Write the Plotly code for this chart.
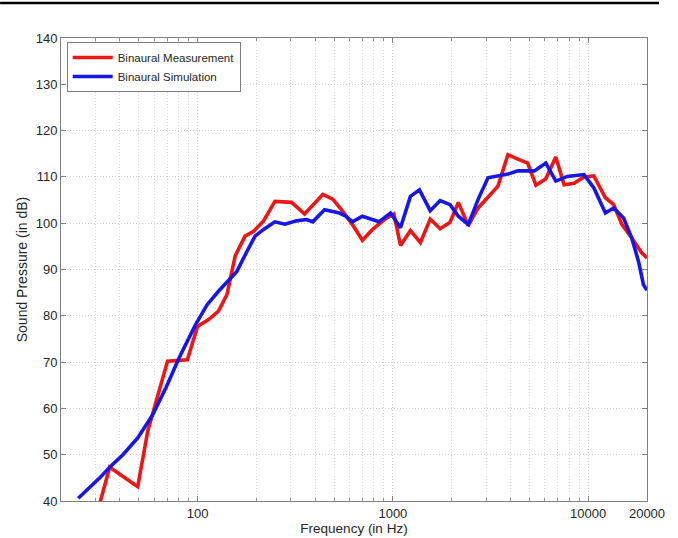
import plotly.graph_objects as go

# Binaural Measurement (red)
meas_freq = [30, 31.8, 35.5, 49.4, 55.6, 70.2, 88.7, 100, 114, 128, 141.5, 156, 175, 193, 217,
             249, 303, 353, 438, 492, 553, 621, 698, 785, 918, 1012, 1094, 1230, 1383, 1553,
             1746, 1963, 2163, 2432, 2734, 3452, 3881, 4276, 4900, 5400, 6070, 6823, 7530,
             8460, 9510, 10690, 12250, 13500, 14890, 16710, 18790, 20000]
meas_db = [36, 40, 47.3, 43.1, 55.1, 70.2, 70.5, 77.7, 79.2, 81, 84.6, 93, 97.2, 98.2, 100.4,
           104.7, 104.5, 102, 106.2, 105.2, 102.6, 99.7, 96.3, 98.6, 101, 102, 95.2, 98.4, 95.8, 100.9,
           98.8, 100.2, 104.5, 99.5, 103.3, 108, 114.8, 114, 113, 108.2, 109.6, 114.3, 108.3,
           108.6, 110, 110.2, 105.5, 104, 99.7, 96.8, 93.6, 92.5]

# Binaural Simulation (blue)
sim_freq = [24.5, 31.6, 35.5, 41.5, 49.4, 58.9, 68.8, 80.4, 97.7, 112, 128, 159, 179, 197, 217,
            249, 280, 321, 361, 389, 447, 532, 575, 621, 698, 771, 849, 973, 1094, 1230, 1368,
            1553, 1746, 1963, 2163, 2432, 2734, 3070, 3881, 4363, 5300, 6070, 6823, 7820, 9510,
            10690, 12250, 13500, 15180, 16710, 18080, 19190, 20000]
sim_db = [40.6, 45, 47.3, 50, 53.6, 58.6, 64.4, 70.9, 78.1, 82.4, 85.3, 89.6, 93.9, 97.2, 98.6,
          100.3, 99.8, 100.5, 100.8, 100.3, 102.9, 102.2, 101.5, 100.3, 101.5, 100.8, 100.3, 102.2, 99, 105.8, 107.2,
          102.7, 104.9, 104, 101.5, 99.7, 105.2, 109.8, 110.6, 111.3, 111.3, 113, 109.1, 110.1, 110.5,
          107.6, 102.2, 103.3, 101.1, 96.8, 91.8, 86.7, 85.5]

x_tickvals = [100, 1000, 10000, 20000]
x_ticktext = ["100", "1000", "10000", "20000"]
x_minor = [v * m for v in (10, 100, 1000) for m in range(2, 10)] + [10000 * m for m in range(2, 10)]
y_tickvals = list(range(40, 141, 10))

FONT = "Liberation Sans, Arial"
TXT = "#262626"

fig = go.Figure()
fig.add_trace(go.Scatter(x=meas_freq, y=meas_db, mode="lines", name="Binaural Measurement",
                         line=dict(color="rgb(236,22,22)", width=3.6)))
fig.add_trace(go.Scatter(x=sim_freq, y=sim_db, mode="lines", name="Binaural Simulation",
                         line=dict(color="rgb(22,22,232)", width=3.6)))

axis_common = dict(showline=True, linecolor="#808080", linewidth=1, mirror="allticks",
                   ticks="inside", ticklen=5, tickcolor="#808080",
                   tickfont=dict(family=FONT, size=13, color=TXT),
                   showgrid=True, gridcolor="#d2d2d2", griddash="1px,2px", gridwidth=1, zeroline=False)

fig.update_xaxes(type="log", range=[1.30103, 4.30103], tickmode="array",
                 tickvals=x_tickvals, ticktext=x_ticktext,
                 minor=dict(tickmode="array", tickvals=x_minor, ticks="inside", ticklen=3,
                            tickcolor="#909090", showgrid=True, gridcolor="#d8d8d8", griddash="1px,2px"),
                 title=dict(text="Frequency (in Hz)", font=dict(family=FONT, size=13.5, color=TXT),
                            standoff=2),
                 automargin=False,
                 **axis_common)
fig.update_yaxes(range=[40, 140], tickmode="array", tickvals=y_tickvals,
                 title=dict(text="Sound Pressure (in dB)", font=dict(family=FONT, size=14, color=TXT),
                            standoff=4),
                 automargin=False,
                 **axis_common)

fig.add_shape(type="line", xref="paper", yref="paper", x0=-0.104, x1=1.0205, y0=1.0756, y1=1.0756,
              line=dict(color="black", width=2.5))

fig.update_layout(
    width=678, height=538,
    margin=dict(l=61, r=31, t=38, b=37),
    paper_bgcolor="white", plot_bgcolor="white",
    showlegend=True,
    legend=dict(x=0.0097, y=0.9915, xanchor="left", yanchor="top",
                bgcolor="white", bordercolor="#808080", borderwidth=1,
                font=dict(family=FONT, size=11.5, color=TXT),
                tracegroupgap=0, itemwidth=40),
)

fig.write_html("out.html", config={"displayModeBar": False},
               post_script="document.body.style.margin='0';")
